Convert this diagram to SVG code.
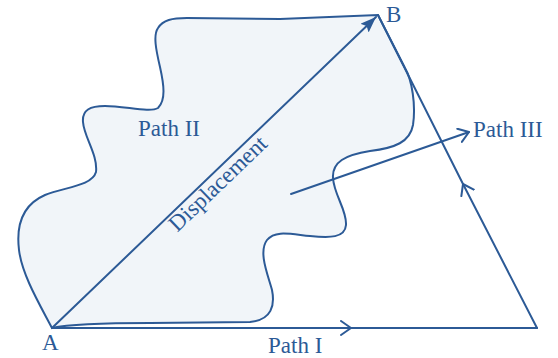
<svg xmlns="http://www.w3.org/2000/svg" width="558" height="358" viewBox="0 0 558 358">
<style>
.ln{fill:none;stroke:#2c5a96;stroke-width:2;stroke-linecap:round;stroke-linejoin:round}
.blob{fill:#f1f5f9;stroke:#2c5a96;stroke-width:2}
text{font-family:"Liberation Serif","Times New Roman",serif;font-size:23px;fill:#2c5a96}
</style>
<defs>
<marker id="chev" markerUnits="userSpaceOnUse" markerWidth="14" markerHeight="18" refX="11" refY="8" orient="auto">
<path d="M1,1 L11,8 L1,15" fill="none" stroke="#2c5a96" stroke-width="2" stroke-linecap="round" stroke-linejoin="round"/>
</marker>
<marker id="tri" markerUnits="userSpaceOnUse" markerWidth="18" markerHeight="14" refX="16" refY="6" orient="auto">
<path d="M0,0 L16,6 L0,12 L3,6 Z" fill="#2c5a96"/>
</marker>
</defs>
<g id="region">
<path class="blob" d="M52,328 C40,305 22,275 19,250 C16,225 22,205 45,195 C65,187 92,186 96,172 C98,155 84,137 83,122 C82,110 90,106 105,106 C125,106 150,113 158,108 C166,100 164,85 160,67 C156,50 153,35 158,28 C163,20 172,18 187,18 L280,19 L378,15 L405,68 C412,80 416,105 413,125 C410,142 395,148 370,151 C345,155 332,162 333,178 C334,195 347,210 346,225 C345,238 330,238 310,236 C290,234 275,230 267,240 C258,252 268,275 272,290 C275,305 272,320 250,322 L150,323 C100,323 70,324 52,328 Z"/>
</g>
<g id="connectors">
<path id="path1a" class="ln" d="M52,328 L351,328" marker-end="url(#chev)"/>
<path id="path1b" class="ln" d="M351,328 L537,328"/>
<path id="path3a" class="ln" d="M537,328 L463,184" marker-end="url(#chev)"/>
<path id="path3b" class="ln" d="M463,184 L378,15"/>
<path id="displacement" class="ln" d="M52,328 L376,17" marker-end="url(#tri)"/>
<path id="path3arrow" class="ln" d="M291,194 L469,132" marker-end="url(#chev)"/>
</g>
<g id="labels">
<text x="42" y="350">A</text>
<text x="386" y="22">B</text>
<text x="138" y="136">Path II</text>
<text x="473" y="137">Path III</text>
<text x="268" y="353">Path I</text>
<text x="223" y="189" text-anchor="middle" transform="rotate(-43.8 223 189)">Displacement</text>
</g>
</svg>
